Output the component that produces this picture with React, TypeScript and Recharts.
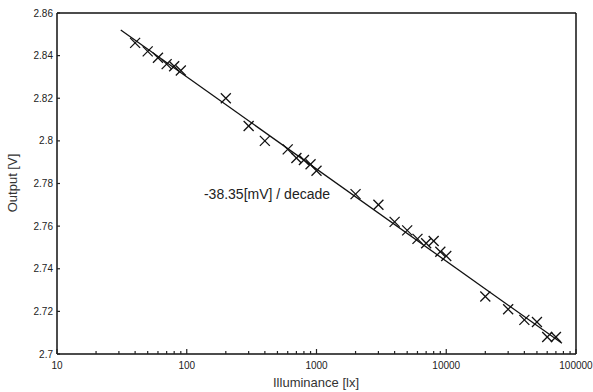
import { ComposedChart, Scatter, XAxis, YAxis, ReferenceLine } from "recharts";

// illuminance [lx] and sensor output [V]
const luxValues = [
  40, 50, 60, 70, 80, 90, 200, 300, 400, 600, 700, 800, 900, 1000, 2000, 3000,
  4000, 5000, 6000, 7000, 8000, 9000, 10000, 20000, 30000, 40000, 50000, 60000, 70000,
];
const outputValues = [
  2.846, 2.842, 2.839, 2.836, 2.835, 2.833, 2.82, 2.807, 2.8, 2.796, 2.792, 2.791,
  2.789, 2.786, 2.775, 2.77, 2.762, 2.758, 2.754, 2.752, 2.753, 2.748, 2.746,
  2.727, 2.721, 2.716, 2.715, 2.708, 2.708,
];

// fitted line end points
const fitLux = [31, 78000];
const fitOutput = [2.852, 2.705];

const decadeTicks = [10, 100, 1000, 10000, 100000];
const xTicks = [
  10, 20, 30, 40, 50, 60, 70, 80, 90,
  100, 200, 300, 400, 500, 600, 700, 800, 900,
  1000, 2000, 3000, 4000, 5000, 6000, 7000, 8000, 9000,
  10000, 20000, 30000, 40000, 50000, 60000, 70000, 80000, 90000,
  100000,
];
const yTicks = [2.7, 2.72, 2.74, 2.76, 2.78, 2.8, 2.82, 2.84, 2.86];
const yTickLabels = ["2.7", "2.72", "2.74", "2.76", "2.78", "2.8", "2.82", "2.84", "2.86"];

const puntos = luxValues.map((lux, i) => ({ lux, out: outputValues[i] }));

const FONT = "'Liberation Sans', Arial, sans-serif";

function Cruz(props: any) {
  const { cx, cy } = props;
  if (cx == null || cy == null) return null;
  const s = 5;
  return (
    <g stroke="#111" strokeWidth={1.3}>
      <line x1={cx - s} y1={cy - s} x2={cx + s} y2={cy + s} />
      <line x1={cx - s} y1={cy + s} x2={cx + s} y2={cy - s} />
    </g>
  );
}

function TickAbajo(props: any) {
  const { x, y, payload } = props;
  const mayor = decadeTicks.includes(payload.value);
  return (
    <g>
      <line x1={x} y1={y} x2={x} y2={y - (mayor ? 5 : 3)} stroke="#222" strokeWidth={1.2} />
      {mayor && (
        <text x={x} y={y + 15} textAnchor="middle" fontSize={10} fill="#222" fontFamily={FONT}>
          {payload.value}
        </text>
      )}
    </g>
  );
}

function TickArriba(props: any) {
  const { x, y, payload } = props;
  const mayor = decadeTicks.includes(payload.value);
  return <line x1={x} y1={y} x2={x} y2={y + (mayor ? 5 : 3)} stroke="#222" strokeWidth={1.2} />;
}

function TickIzq(props: any) {
  const { x, y, index } = props;
  return (
    <g>
      <line x1={x} y1={y} x2={x + 3} y2={y} stroke="#222" strokeWidth={1.2} />
      <text x={x - 4} y={y + 3.5} textAnchor="end" fontSize={10} fill="#222" fontFamily={FONT}>
        {yTickLabels[index]}
      </text>
    </g>
  );
}

function TickDer(props: any) {
  const { x, y } = props;
  return <line x1={x} y1={y} x2={x - 3} y2={y} stroke="#222" strokeWidth={1.2} />;
}

export default function App() {
  return (
    <div style={{ position: "absolute", left: 0, top: 0, width: 593, height: 392, background: "#fff" }}>
      <ComposedChart width={593} height={392} margin={{ top: 0, right: 0, bottom: 0, left: 0 }}>
        <XAxis
          dataKey="lux"
          type="number"
          scale="log"
          domain={[10, 100000]}
          ticks={xTicks}
          interval={0}
          height={38}
          tickSize={0}
          tickMargin={0}
          tickLine={false}
          tick={<TickAbajo />}
          axisLine={{ stroke: "#111", strokeWidth: 1.5 }}
        />
        <XAxis
          xAxisId="top"
          orientation="top"
          type="number"
          scale="log"
          domain={[10, 100000]}
          ticks={xTicks}
          interval={0}
          height={13}
          tickSize={0}
          tickMargin={0}
          tickLine={false}
          tick={<TickArriba />}
          axisLine={{ stroke: "#111", strokeWidth: 1.5 }}
        />
        <YAxis
          dataKey="out"
          type="number"
          domain={[2.7, 2.86]}
          ticks={yTicks}
          interval={0}
          width={57}
          tickSize={0}
          tickMargin={0}
          tickLine={false}
          tick={<TickIzq />}
          axisLine={{ stroke: "#111", strokeWidth: 1.5 }}
        />
        <YAxis
          yAxisId="right"
          orientation="right"
          type="number"
          domain={[2.7, 2.86]}
          ticks={yTicks}
          interval={0}
          width={17}
          tickSize={0}
          tickMargin={0}
          tickLine={false}
          tick={<TickDer />}
          axisLine={{ stroke: "#111", strokeWidth: 1.5 }}
        />
        <ReferenceLine
          segment={[
            { x: fitLux[0], y: fitOutput[0] },
            { x: fitLux[1], y: fitOutput[1] },
          ]}
          stroke="#111"
          strokeWidth={1.3}
        />
        <Scatter data={puntos} shape={<Cruz />} isAnimationActive={false} />
      </ComposedChart>
      <div
        style={{
          position: "absolute", left: 12, top: 183, transform: "translate(-50%, -50%) rotate(-90deg)",
          fontFamily: FONT, fontSize: 13, color: "#333", whiteSpace: "nowrap",
        }}
      >
        Output [V]
      </div>
      <div
        style={{
          position: "absolute", left: 316, top: 382, transform: "translate(-50%, -50%)",
          fontFamily: FONT, fontSize: 13, color: "#333", whiteSpace: "nowrap",
        }}
      >
        Illuminance [lx]
      </div>
      <div
        style={{
          position: "absolute", left: 267, top: 194, transform: "translate(-50%, -50%)",
          fontFamily: FONT, fontSize: 14, color: "#222", whiteSpace: "nowrap",
        }}
      >
        -38.35[mV] / decade
      </div>
    </div>
  );
}
